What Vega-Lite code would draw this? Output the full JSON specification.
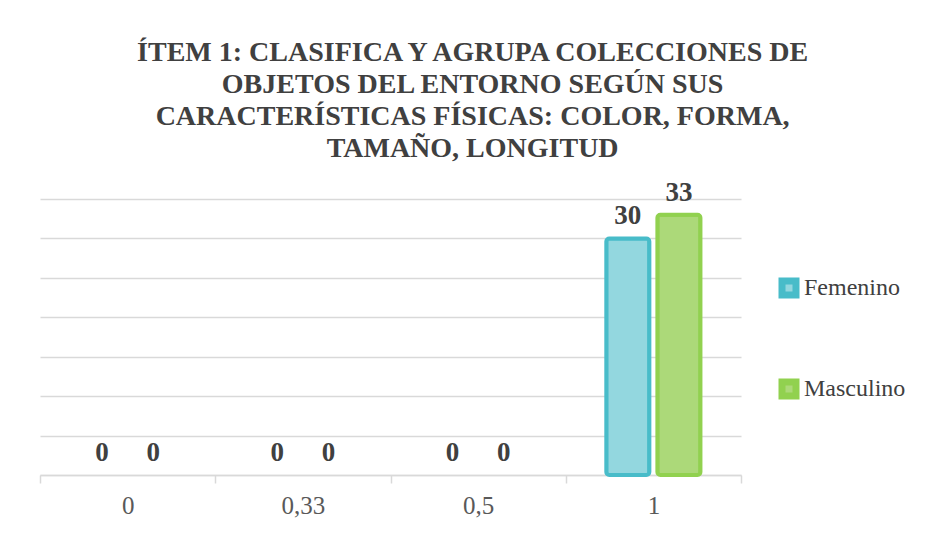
{
  "$schema": "https://vega.github.io/schema/vega-lite/v6.json",
  "width": 701,
  "height": 276,
  "padding": {"left": 39, "top": 38, "right": 5, "bottom": 5},
  "background": "white",
  "title": {
    "text": ["ÍTEM 1: CLASIFICA Y AGRUPA COLECCIONES DE", "OBJETOS DEL ENTORNO SEGÚN SUS", "CARACTERÍSTICAS FÍSICAS: COLOR, FORMA,", "TAMAÑO, LONGITUD"],
    "font": "Liberation Serif",
    "fontSize": 28,
    "fontWeight": "bold",
    "color": "#404040",
    "lineHeight": 32,
    "anchor": "middle",
    "frame": "bounds",
    "offset": 16
  },
  "data": {
    "values": [
      {"nivel": "0", "genero": "Femenino", "valor": 0},
      {"nivel": "0", "genero": "Masculino", "valor": 0},
      {"nivel": "0,33", "genero": "Femenino", "valor": 0},
      {"nivel": "0,33", "genero": "Masculino", "valor": 0},
      {"nivel": "0,5", "genero": "Femenino", "valor": 0},
      {"nivel": "0,5", "genero": "Masculino", "valor": 0},
      {"nivel": "1", "genero": "Femenino", "valor": 30},
      {"nivel": "1", "genero": "Masculino", "valor": 33}
    ]
  },
  "encoding": {
    "x": {
      "field": "nivel", "type": "nominal", "sort": null,
      "scale": {"domain": ["0", "0,33", "0,5", "1"], "paddingInner": 0, "paddingOuter": 0},
      "axis": {
        "title": null, "labelAngle": 0, "tickBand": "extent", "grid": false,
        "domainColor": "#d9d9d9", "domainWidth": 1.5,
        "tickColor": "#d9d9d9", "tickWidth": 1.5, "tickSize": 8,
        "labelFont": "Liberation Serif", "labelFontSize": 25, "labelColor": "#595959",
        "labelPadding": 10
      }
    },
    "xOffset": {
      "field": "genero", "type": "nominal",
      "scale": {"domain": ["Femenino", "Masculino"], "paddingInner": 0.157, "paddingOuter": 0.794}
    },
    "y": {
      "field": "valor", "type": "quantitative",
      "scale": {"domain": [0, 35]},
      "axis": {
        "title": null, "labels": false, "ticks": false, "domain": false,
        "grid": true, "gridColor": "#d9d9d9", "gridWidth": 1.5,
        "values": [0, 5, 10, 15, 20, 25, 30, 35]
      }
    }
  },
  "layer": [
    {
      "transform": [{"filter": "datum.valor > 0"}],
      "mark": {"type": "bar", "strokeWidth": 4, "cornerRadius": 3},
      "encoding": {
        "fill": {
          "field": "genero", "type": "nominal",
          "scale": {"domain": ["Femenino", "Masculino"], "range": ["#93d7df", "#acd979"]},
          "legend": {"title": null}
        },
        "stroke": {
          "field": "genero", "type": "nominal",
          "scale": {"domain": ["Femenino", "Masculino"], "range": ["#48bcc9", "#91d14f"]},
          "legend": {"title": null}
        }
      }
    },
    {
      "mark": {
        "type": "text", "font": "Liberation Serif", "fontWeight": "bold",
        "fontSize": 27, "color": "#404040", "baseline": "alphabetic", "dy": -14
      },
      "encoding": {
        "text": {"field": "valor", "type": "quantitative"}
      }
    }
  ],
  "config": {
    "font": "Liberation Serif",
    "title": {"font": "Liberation Serif"},
    "view": {"stroke": null},
    "legend": {
      "orient": "none",
      "legendX": 737,
      "legendY": 77,
      "padding": 0,
      "rowPadding": 59,
      "symbolType": "square",
      "symbolSize": 196,
      "symbolStrokeWidth": 7,
      "labelFont": "Liberation Serif",
      "labelFontSize": 24,
      "labelColor": "#404040",
      "labelOffset": 3
    }
  }
}
